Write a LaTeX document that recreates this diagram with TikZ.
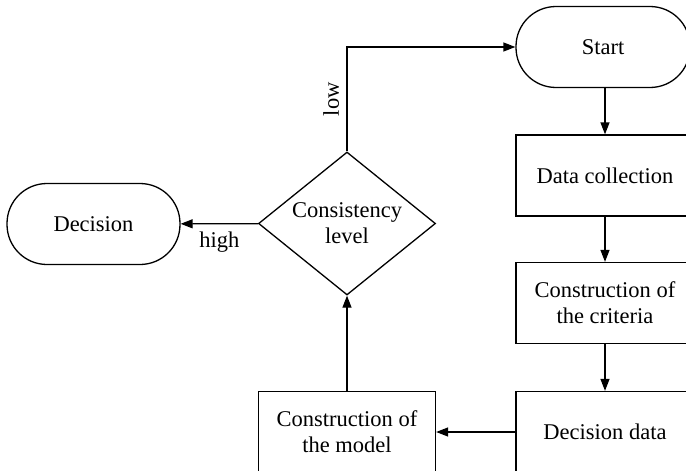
\documentclass[tikz,border=0pt]{standalone}
\usepackage{fontspec}
\setmainfont{Liberation Serif}
\usetikzlibrary{shapes.geometric,arrows.meta}

\begin{document}
\begin{tikzpicture}[x=1pt, y=-1pt, >={Stealth[inset=0pt,length=12pt,width=9pt]}, line width=1.3pt,
    font=\fontsize{22.5}{26}\selectfont,
    block/.style={draw, minimum width=178pt, minimum height=81pt, inner sep=0pt, align=center},
    term/.style={draw, rounded corners=40pt, minimum height=81pt, inner sep=0pt},
    decide/.style={draw, diamond, aspect=1.24, inner sep=0pt, minimum width=177pt, minimum height=143pt, align=center}]
    \useasboundingbox (0,0) rectangle (686,471);
    \clip (0,0) rectangle (686,471);

    \node[term, minimum width=174pt] (start) at (603,47) {Start};
    \node[block] (collect) at (605,175.5) {Data collection};
    \node[block] (criteria) at (605,303) {Construction of\\the criteria};
    \node[block] (data) at (605,432) {Decision data};
    \node[block, minimum width=177pt] (model) at (347,432) {Construction of\\the model};
    \node[decide] (level) at (347,223.5) {Consistency\\level};
    \node[term, minimum width=173pt] (decision) at (93.5,224) {Decision};

    \draw[->] (start.south -| collect) -- (collect);
    \draw[->] (collect) -- (criteria);
    \draw[->] (criteria) -- (data);
    \draw[->] (data) -- (model);
    \draw[->] (model) -- (level);
    \draw[->] (level) -- node[below=4pt] {high} (decision);
    \draw[->] (level.north) |- node[pos=0.25, above=4pt, sloped] {low} (start);
\end{tikzpicture}
\end{document}
